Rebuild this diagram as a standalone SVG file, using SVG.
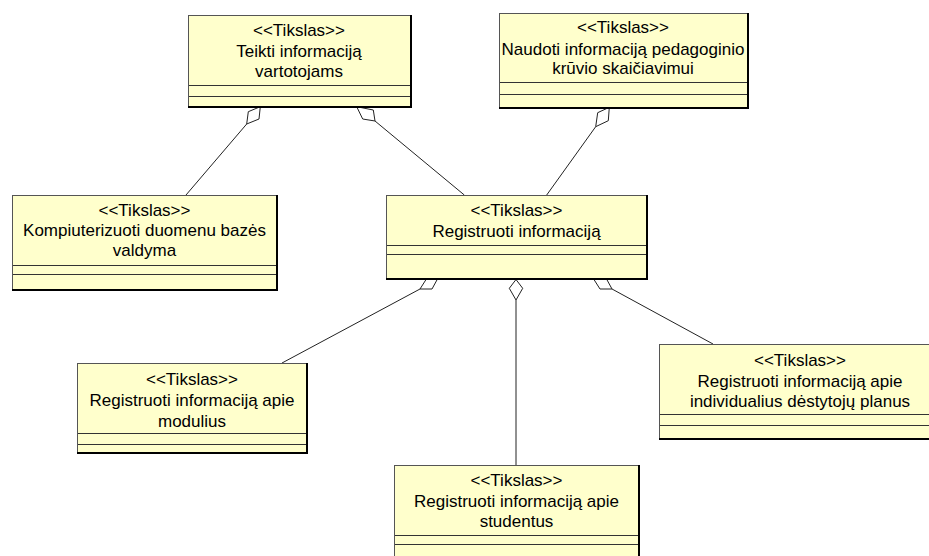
<svg xmlns="http://www.w3.org/2000/svg" width="929" height="556" viewBox="0 0 929 556">
  <style>
    .box { fill: #FFFFCC; stroke: #555555; stroke-width: 1; }
    .shadow { fill: none; stroke: #000000; stroke-width: 2; }
    .div { stroke: #333333; stroke-width: 1; }
    .t { font-family: "Liberation Sans", Arial, sans-serif; font-size: 17px; fill: #000000; text-anchor: middle; }
    .edge { stroke: #222222; stroke-width: 1; fill: none; }
    .dia { stroke: #222222; stroke-width: 1; fill: #FFFFFF; }
  </style>

  <!-- aggregation connectors -->
  <g id="connectors">
    <line class="edge" x1="246.7" y1="124" x2="186" y2="195"/>
    <polygon class="dia" points="260.3,106.7 248.3,111.7 246.7,124 259,119"/>

    <line class="edge" x1="375" y1="121" x2="464.3" y2="195"/>
    <polygon class="dia" points="356.7,106.7 373.3,110 375,121 362.7,119"/>

    <line class="edge" x1="595.7" y1="126.7" x2="546.7" y2="195"/>
    <polygon class="dia" points="609.3,107.3 597.7,112.7 595.7,126.7 608.3,120.7"/>

    <line class="edge" x1="420" y1="289" x2="282" y2="363"/>
    <polygon class="dia" points="427,278 438,278 432,289 420,289"/>

    <line class="edge" x1="612" y1="289" x2="713" y2="344"/>
    <polygon class="dia" points="593,278 606,278 612,289 600,289"/>

    <line class="edge" x1="516" y1="300" x2="516" y2="465"/>
    <polygon class="dia" points="516,279.5 522.7,288.3 516,300 509.3,288.3"/>
  </g>

  <!-- Teikti informaciją vartotojams -->
  <g id="teikti">
    <rect class="box" x="188.5" y="15.5" width="222" height="91"/>
    <polyline class="shadow" points="411,15 411,107 188,107"/>
    <line class="div" x1="189" y1="85.5" x2="410" y2="85.5"/>
    <line class="div" x1="189" y1="96.5" x2="410" y2="96.5"/>
    <text class="t" x="299" y="36">&lt;&lt;Tikslas&gt;&gt;</text>
    <text class="t" x="299" y="57">Teikti informaciją</text>
    <text class="t" x="299" y="77">vartotojams</text>
  </g>

  <!-- Naudoti informaciją pedagoginio krūvio skaičiavimui -->
  <g id="naudoti">
    <rect class="box" x="499.5" y="13.5" width="248" height="94"/>
    <polyline class="shadow" points="748,13 748,108 499,108"/>
    <line class="div" x1="500" y1="82.5" x2="747" y2="82.5"/>
    <line class="div" x1="500" y1="94.5" x2="747" y2="94.5"/>
    <text class="t" x="623" y="33">&lt;&lt;Tikslas&gt;&gt;</text>
    <text class="t" x="623" y="55">Naudoti informaciją pedagoginio</text>
    <text class="t" x="623" y="74">krūvio skaičiavimui</text>
  </g>

  <!-- Kompiuterizuoti duomenu bazės valdyma -->
  <g id="kompiuterizuoti">
    <rect class="box" x="12.5" y="195.5" width="264" height="94"/>
    <polyline class="shadow" points="277,195 277,290 12,290"/>
    <line class="div" x1="13" y1="265.5" x2="276" y2="265.5"/>
    <line class="div" x1="13" y1="274.5" x2="276" y2="274.5"/>
    <text class="t" x="144.5" y="216">&lt;&lt;Tikslas&gt;&gt;</text>
    <text class="t" x="144.5" y="236">Kompiuterizuoti duomenu bazės</text>
    <text class="t" x="144.5" y="256">valdyma</text>
  </g>

  <!-- Registruoti informaciją -->
  <g id="registruoti">
    <rect class="box" x="386.5" y="195.5" width="260" height="83"/>
    <polyline class="shadow" points="647,195 647,279 386,279"/>
    <line class="div" x1="387" y1="245.5" x2="646" y2="245.5"/>
    <line class="div" x1="387" y1="254.5" x2="646" y2="254.5"/>
    <text class="t" x="516.5" y="216">&lt;&lt;Tikslas&gt;&gt;</text>
    <text class="t" x="516.5" y="237">Registruoti informaciją</text>
  </g>

  <!-- Registruoti informaciją apie modulius -->
  <g id="moduliai">
    <rect class="box" x="77.5" y="363.5" width="229" height="89"/>
    <polyline class="shadow" points="307,363 307,453 77,453"/>
    <line class="div" x1="78" y1="433.5" x2="306" y2="433.5"/>
    <line class="div" x1="78" y1="444.5" x2="306" y2="444.5"/>
    <text class="t" x="192" y="385">&lt;&lt;Tikslas&gt;&gt;</text>
    <text class="t" x="192" y="406">Registruoti informaciją apie</text>
    <text class="t" x="192" y="427">modulius</text>
  </g>

  <!-- Registruoti informaciją apie individualius dėstytojų planus -->
  <g id="planai">
    <rect class="box" x="659.5" y="344.5" width="282" height="94"/>
    <polyline class="shadow" points="942,344 942,439 659,439"/>
    <line class="div" x1="660" y1="414.5" x2="941" y2="414.5"/>
    <line class="div" x1="660" y1="425.5" x2="941" y2="425.5"/>
    <text class="t" x="800" y="366">&lt;&lt;Tikslas&gt;&gt;</text>
    <text class="t" x="800" y="387">Registruoti informaciją apie</text>
    <text class="t" x="800" y="407">individualius dėstytojų planus</text>
  </g>

  <!-- Registruoti informaciją apie studentus -->
  <g id="studentai">
    <rect class="box" x="394.5" y="465.5" width="244" height="100"/>
    <polyline class="shadow" points="639,465 639,566"/>
    <line class="div" x1="395" y1="535.5" x2="638" y2="535.5"/>
    <line class="div" x1="395" y1="544.5" x2="638" y2="544.5"/>
    <text class="t" x="516.5" y="486">&lt;&lt;Tikslas&gt;&gt;</text>
    <text class="t" x="516.5" y="507">Registruoti informaciją apie</text>
    <text class="t" x="516.5" y="527">studentus</text>
  </g>
</svg>
